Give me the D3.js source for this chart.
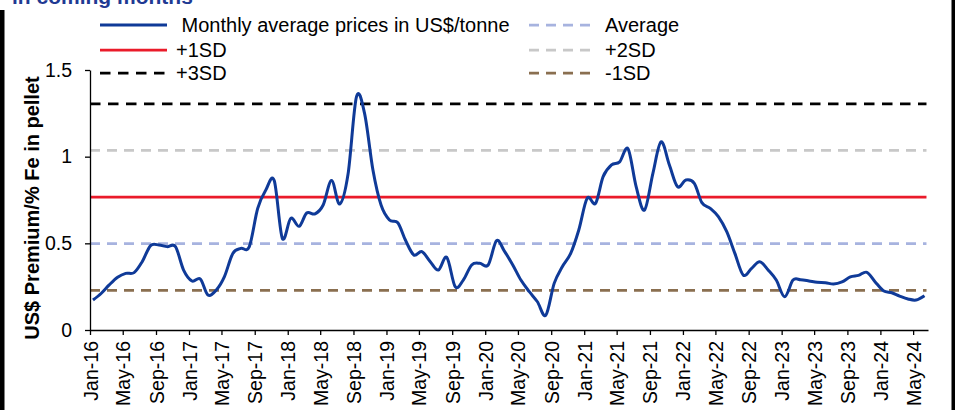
<!DOCTYPE html>
<html>
<head>
<meta charset="utf-8">
<script src="https://cdn.jsdelivr.net/npm/d3@7"></script>
<style>
  body { margin: 0; background: #fff; }
  svg { display: block; font-family: "Liberation Sans", Arial, sans-serif; }
</style>
</head>
<body>
<script>
'use strict'

// monthly values, Jan-16 .. Jun-24
const startMonth = '2016-01'
const prices = [
  0.173, 0.212, 0.26, 0.304, 0.327, 0.331, 0.394, 0.487, 0.49, 0.481, 0.481, 0.346,
  0.283, 0.294, 0.202, 0.231, 0.308, 0.442, 0.471, 0.481, 0.702, 0.808, 0.862, 0.529,
  0.644, 0.598, 0.675, 0.67, 0.721, 0.862, 0.727, 0.9, 1.345, 1.25, 0.923, 0.721,
  0.635, 0.619, 0.519, 0.433, 0.452, 0.394, 0.346, 0.419, 0.25, 0.288, 0.375, 0.385,
  0.375, 0.515, 0.455, 0.375, 0.288, 0.221, 0.163, 0.085, 0.269, 0.365, 0.442, 0.577,
  0.76, 0.731, 0.885, 0.952, 0.97, 1.045, 0.827, 0.692, 0.904, 1.085, 0.952, 0.827,
  0.865, 0.846, 0.735, 0.702, 0.654, 0.567, 0.442, 0.317, 0.356, 0.394, 0.346, 0.288,
  0.192, 0.288, 0.29, 0.283, 0.275, 0.273, 0.265, 0.277, 0.306, 0.315, 0.333, 0.279,
  0.227, 0.215, 0.196, 0.179, 0.173, 0.198
]

const refNames = ['Average', '+1SD', '+2SD', '+3SD', '-1SD']
const refValues = [0.498, 0.767, 1.036, 1.305, 0.229]

const yTicks = [0, 0.5, 1, 1.5]
const legendLabels = [' Monthly average prices in US$/tonne', '+1SD', '+3SD', 'Average', '+2SD', '-1SD']
const titleText = 'in coming months'
const yTitle = 'US$ Premium/% Fe in pellet'

const W = 960, H = 410
const margin = {top: 70, right: 32, bottom: 80, left: 90}

const colors = {
  'Monthly': '#0f3a98',
  'Average': '#a7b3df',
  '+1SD': '#ea1b2a',
  '+2SD': '#c8c8c8',
  '+3SD': '#000000',
  '-1SD': '#8a6f50'
}

const parseMonth = d3.timeParse('%Y-%m')
const t0 = parseMonth(startMonth)
// points sit a little into each month, like the source sheet
const series = prices.map((v, i) => ({
  date: d3.timeDay.offset(d3.timeMonth.offset(t0, i), 11),
  value: v
}))
const lastDate = series[series.length - 1].date

const x = d3.scaleTime()
  .domain([t0, new Date(2024, 5, 25)])
  .range([margin.left, W - margin.right])

const y = d3.scaleLinear()
  .domain([0, 1.5])
  .range([H - margin.bottom, margin.top])

const svg = d3.select('body').append('svg')
  .attr('width', W)
  .attr('height', H)

// frame edges from the cropped slide
svg.append('rect').attr('x', 0).attr('y', 10).attr('width', 4.5).attr('height', H - 10).attr('fill', '#000')
svg.append('rect').attr('x', 951.5).attr('y', 0).attr('width', 3.5).attr('height', H).attr('fill', '#000')

svg.append('text')
  .attr('x', 12)
  .attr('y', 4)
  .attr('fill', '#1f3a93')
  .style('font-size', '21px')
  .style('font-weight', 'bold')
  .text(titleText)

// reference lines
const dashes = {'Average': '10,7', '+2SD': '10,7', '+3SD': '10.5,7.5', '-1SD': '10,7', '+1SD': null}
const refG = svg.append('g').attr('class', 'refs')
refNames.forEach((name, i) => {
  refG.append('line')
    .attr('x1', x.range()[0])
    .attr('x2', x(lastDate) + 2)
    .attr('y1', y(refValues[i]))
    .attr('y2', y(refValues[i]))
    .attr('stroke', colors[name])
    .attr('stroke-width', 2.75)
    .attr('stroke-dasharray', dashes[name])
})

const line = d3.line()
  .x(d => x(d.date))
  .y(d => y(d.value))
  .curve(d3.curveCardinal.tension(0))

svg.append('path')
  .datum(series)
  .attr('fill', 'none')
  .attr('stroke', colors['Monthly'])
  .attr('stroke-width', 3)
  .attr('stroke-linejoin', 'round')
  .attr('d', line)

// axes
const xAxis = d3.axisBottom(x)
  .tickValues(d3.timeMonth.every(4).range(t0, x.domain()[1]))
  .tickSize(5)
  .tickSizeOuter(0)
  .tickFormat(d3.timeFormat('%b-%y'))

const gx = svg.append('g')
  .attr('transform', 'translate(0,' + y(0) + ')')
  .call(xAxis)
gx.selectAll('text')
  .attr('transform', 'rotate(-90)')
  .attr('x', -11)
  .attr('y', 0)
  .attr('dy', '0.36em')
  .style('text-anchor', 'end')

const yAxis = d3.axisLeft(y)
  .tickValues(yTicks)
  .tickSize(5)
  .tickSizeOuter(0)
  .tickPadding(13)
  .tickFormat(d => String(d))

const gy = svg.append('g')
  .attr('transform', 'translate(' + x.range()[0] + ',0)')
  .call(yAxis)

svg.selectAll('.tick text')
  .attr('fill', '#000')
  .style('font-size', '19.5px')
  .style('font-family', '"Liberation Sans", Arial, sans-serif')
svg.selectAll('.domain, .tick line')
  .attr('stroke', '#000')
  .attr('stroke-width', 1.3)

svg.append('text')
  .attr('transform', 'translate(39,' + 208 + ') rotate(-90)')
  .attr('text-anchor', 'middle')
  .style('font-size', '20px')
  .style('font-weight', 'bold')
  .text(yTitle)

// legend, two columns of three
const legendKeys = ['Monthly', '+1SD', '+3SD', 'Average', '+2SD', '-1SD']
const legendRows = [25, 50, 73]
const legendCols = [{x1: 100, x2: 167}, {x1: 529, x2: 596}]
const legend = svg.append('g').attr('class', 'legend')
legendKeys.forEach((k, i) => {
  const col = legendCols[Math.floor(i / 3)]
  const ly = legendRows[i % 3]
  legend.append('line')
    .attr('x1', col.x1).attr('x2', col.x2)
    .attr('y1', ly).attr('y2', ly)
    .attr('stroke', colors[k])
    .attr('stroke-width', k === 'Monthly' ? 3 : 2.75)
    .attr('stroke-dasharray', k === 'Monthly' ? null : dashes[k])
  legend.append('text')
    .attr('x', col.x2 + 9)
    .attr('y', ly)
    .attr('dy', '0.35em')
    .style('font-size', '20px')
    .style('white-space', 'pre')
    .text(legendLabels[i])
})
</script>
</body>
</html>
